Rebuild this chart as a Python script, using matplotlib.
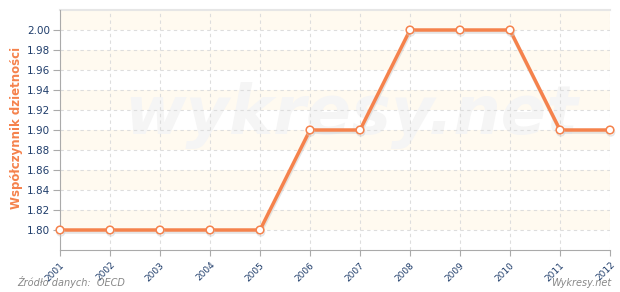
import matplotlib.pyplot as plt
import matplotlib.patheffects as pe
import numpy as np

# Data
years = [2001, 2002, 2003, 2004, 2005, 2006, 2007, 2008, 2009, 2010, 2011, 2012]
fertility = [1.80, 1.80, 1.80, 1.80, 1.80, 1.90, 1.90, 2.00, 2.00, 2.00, 1.90, 1.90]
y_ticks = [1.80, 1.82, 1.84, 1.86, 1.88, 1.90, 1.92, 1.94, 1.96, 1.98, 2.00]

orange = '#f5824c'
tick_col = '#1f3d6b'

fig = plt.figure(figsize=(6.2, 2.92), dpi=100)
ax = fig.add_axes([60 / 620, 42 / 292, 550 / 620, 240 / 292])

ax.set_xlim(years[0], years[-1])
ax.set_ylim(1.78, 2.02)

# alternating cream bands
for lo in np.arange(1.80, 2.01, 0.04):
    ax.axhspan(lo, lo + 0.02, color='#fffaf0', zorder=0, lw=0)

# grid
ax.set_xticks(years)
ax.set_yticks(y_ticks)
ax.grid(True, color='#dddddd', linestyle=(0, (3, 3)), linewidth=0.8, zorder=1)

# watermark
ax.text(0.53, 0.56, 'wykresy.net', transform=ax.transAxes, ha='center', va='center',
        fontsize=48, fontweight='bold', fontstyle='italic', color='#f5f5f5', zorder=1)

# line with shadow
ax.plot(years, fertility, color=orange, linewidth=2.5, zorder=3,
        marker='o', markersize=5.5, markerfacecolor='white', markeredgecolor=orange,
        markeredgewidth=1.1, clip_on=False,
        path_effects=[pe.SimpleLineShadow(offset=(0.5, -1.5), shadow_color='#cccccc', alpha=0.5),
                      pe.Normal()])

# spines
for s in ['top', 'right']:
    ax.spines[s].set_visible(False)
ax.axhline(2.02, color='#e6e6e6', linewidth=1.5, zorder=2, clip_on=False)
ax.spines['left'].set_color('#aaaaaa')
ax.spines['bottom'].set_color('#aaaaaa')

ax.tick_params(axis='both', colors='#aaaaaa', length=4, labelcolor=tick_col)
ax.tick_params(axis='y', labelsize=7.5, length=5, pad=2)
ax.tick_params(axis='x', labelsize=6.5)
ax.set_yticklabels(['%.2f' % v for v in y_ticks])
plt.setp(ax.get_xticklabels(), rotation=45, ha='right', rotation_mode='anchor')

ax.set_ylabel('Współczynnik dzietności', color=orange, fontsize=8.5, fontweight='bold')
ax.yaxis.set_label_coords(-0.068, 0.51)

fig.text(17 / 620, 6 / 292, 'Źródło danych:  OECD', fontsize=7, fontstyle='italic', color='#888888')
fig.text(611 / 620, 6 / 292, 'Wykresy.net', fontsize=7, fontstyle='italic', color='#888888', ha='right')

fig.savefig('out.png', dpi=100)
